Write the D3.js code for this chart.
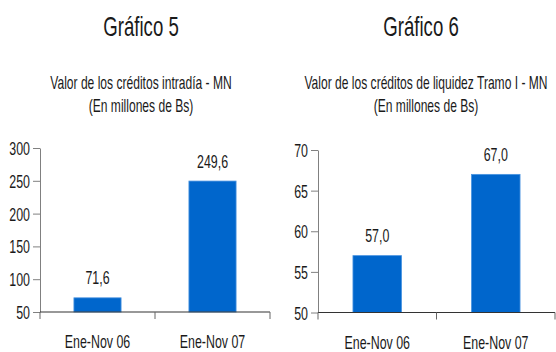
<!DOCTYPE html>
<html>
<head>
<meta charset="utf-8">
<title>Gráfico 5 y 6</title>
<script src="https://cdn.jsdelivr.net/npm/d3@7"></script>
<style>
  body { margin: 0; background: #fff; }
  text { font-family: "Liberation Sans", Arial, sans-serif; fill: #1a1a1a; }
</style>
</head>
<body>
<script>
var width = 556, height = 352
var sq = 0.69   // the original is Arial squeezed sideways

// Gráfico 5
var cats5 = ["Ene-Nov 06", "Ene-Nov 07"]
var vals5 = [71.6, 249.6]
var ticks5 = [50, 100, 150, 200, 250, 300]

// Gráfico 6
var cats6 = ["Ene-Nov 06", "Ene-Nov 07"]
var vals6 = [57.0, 67.0]
var ticks6 = [50, 55, 60, 65, 70]

var svg = d3.select("body").append("svg")
    .attr("width", width).attr("height", height)

var fmt = function(v){ return d3.format(".1f")(v).replace(".", ",") }

function label(g, x, y, size, txt, anchor){
    return g.append("text")
        .attr("transform", "translate(" + x + "," + y + ") scale(" + sq + ",1)")
        .attr("text-anchor", anchor || "middle")
        .style("font-size", size + "px")
        .text(txt)
}

function drawChart(opt){
    var g = svg.append("g")

    label(g, opt.cx, 36, 27, opt.title)
    label(g, opt.sx, 89, 17.5, opt.sub1)
    label(g, opt.sx, 112, 17.5, "(En millones de Bs)")

    var x = d3.scaleBand().domain(opt.cats).range([opt.x0, opt.x1]).paddingInner(0.59).paddingOuter(0.295)
    var y = d3.scaleLinear().domain(opt.domain).range([opt.y0, opt.y1])

    g.selectAll(".bar").data(opt.vals).enter().append("rect")
        .attr("x", function(d, i){ return x(opt.cats[i]) })
        .attr("width", x.bandwidth())
        .attr("y", function(d){ return y(d) })
        .attr("height", function(d){ return y(opt.domain[0]) - y(d) })
        .attr("fill", "#0066cc")
        .attr("stroke", "#4a94e0")
        .attr("stroke-width", 0.8)

    opt.vals.forEach(function(d, i){
        label(g, x(opt.cats[i]) + x.bandwidth()/2, y(d) - 13.5, 18, fmt(d))
    })

    // y axis
    var ya = g.append("g").attr("transform", "translate(" + opt.x0 + ",0)")
        .call(d3.axisLeft(y).tickValues(opt.ticks).tickSize(7).tickSizeOuter(0))
    ya.select(".domain").attr("stroke", "#808080")
    ya.selectAll(".tick line").attr("stroke", "#808080")
    ya.selectAll(".tick text")
        .attr("x", 0).attr("dy", null)
        .attr("transform", "translate(-10,6.5) scale(" + sq + ",1)")
        .style("font-size", "18px").attr("fill", "#1a1a1a")

    // x axis
    var xa = g.append("g").attr("transform", "translate(0," + opt.y0 + ")")
    xa.append("line").attr("x1", opt.x0).attr("x2", opt.x1)
        .attr("stroke", "#333").attr("stroke-width", 1.2)
    var xt = [opt.x0, (opt.x0 + opt.x1)/2, opt.x1]
    xa.selectAll(".xt").data(xt).enter().append("line")
        .attr("x1", function(d){ return d }).attr("x2", function(d){ return d })
        .attr("y1", 0).attr("y2", 7)
        .attr("stroke", "#666")
    opt.cats.forEach(function(c){
        label(xa, x(c) + x.bandwidth()/2, 36, 18, c)
    })
}

drawChart({
    title: "Gráfico 5", cx: 141,
    sub1: "Valor de los créditos intradía - MN", sx: 141,
    cats: cats5, vals: vals5, ticks: ticks5, domain: [50, 300],
    x0: 40, x1: 270, y0: 312, y1: 148
})

drawChart({
    title: "Gráfico 6", cx: 421,
    sub1: "Valor de los créditos de liquidez Tramo I - MN", sx: 426,
    cats: cats6, vals: vals6, ticks: ticks6, domain: [50, 70],
    x0: 318, x1: 555, y0: 312.5, y1: 150
})
</script>
</body>
</html>
